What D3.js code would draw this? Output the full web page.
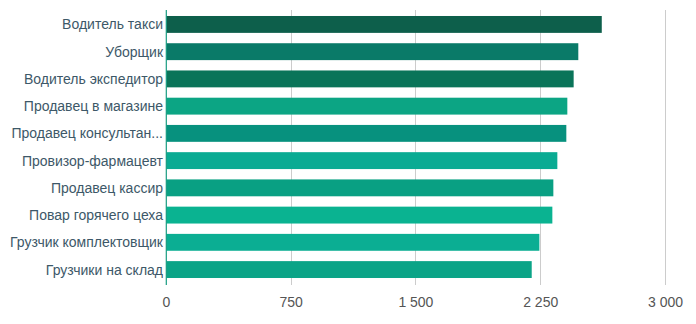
<!DOCTYPE html>
<html><head><meta charset="utf-8">
<script src="https://cdn.jsdelivr.net/npm/d3@7"></script>
<style>body{margin:0;background:#fff;} svg{display:block;}</style>
</head><body>
<svg id="chart" width="696" height="324"></svg>
<script>
const categories = ["Водитель такси","Уборщик","Водитель экспедитор","Продавец в магазине","Продавец консультан...","Провизор-фармацевт","Продавец кассир","Повар горячего цеха","Грузчик комплектовщик","Грузчики на склад"];
const values = [2617, 2476, 2448, 2410, 2404, 2350, 2326, 2320, 2242, 2196];
const barColors = ["#0d5f4b","#0a7a68","#0a7459","#0ca584","#07917e","#0aab93","#09a083","#0ab391","#0bae93","#0ba487"];
const tickValues = [0, 750, 1500, 2250, 3000];
const tickLabels = ["0", "750", "1 500", "2 250", "3 000"];

const svg = d3.select("#chart");
const x = d3.scaleLinear().domain([0, 3000]).range([166.3, 665.5]);
const y = d3.scaleBand().domain(categories).range([10, 284]).paddingInner(0.38).paddingOuter(0.22);

svg.append("g").selectAll("line").data(tickValues.slice(1)).join("line")
  .attr("x1", d => x(d)).attr("x2", d => x(d))
  .attr("y1", 10).attr("y2", 285)
  .attr("stroke", "#cccccc").attr("stroke-width", 1).attr("shape-rendering", "crispEdges");

svg.append("g").selectAll("rect").data(values).join("rect")
  .attr("x", x(0)).attr("y", (d, i) => y(categories[i]))
  .attr("width", d => x(d) - x(0)).attr("height", y.bandwidth())
  .attr("fill", (d, i) => barColors[i]);

svg.append("line").attr("x1", x(0)).attr("x2", x(0)).attr("y1", 10).attr("y2", 285)
  .attr("stroke", "#179b80").attr("stroke-width", 1.2);

svg.append("g").selectAll("text").data(categories).join("text")
  .attr("x", 163).attr("y", d => y(d) + y.bandwidth() / 2)
  .attr("dy", "0.36em").attr("text-anchor", "end")
  .attr("font-family", "Liberation Sans, Arial, sans-serif").attr("font-size", 14)
  .attr("fill", "#3d5868").text(d => d);

svg.append("g").selectAll("text").data(tickValues).join("text")
  .attr("x", d => x(d)).attr("y", 302).attr("dy", "0.36em").attr("text-anchor", "middle")
  .attr("font-family", "Liberation Sans, Arial, sans-serif").attr("font-size", 14)
  .attr("fill", "#555555").text((d, i) => tickLabels[i]);
</script>
</body></html>
